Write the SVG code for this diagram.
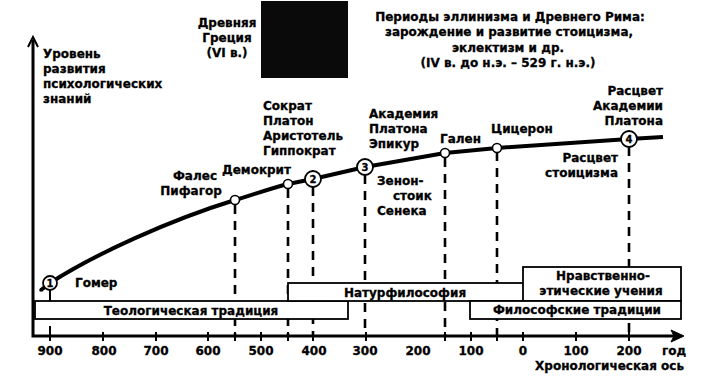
<svg xmlns="http://www.w3.org/2000/svg" width="706" height="381" viewBox="0 0 706 381">
<style>
text{font-family:"DejaVu Sans","Liberation Sans",sans-serif;font-weight:bold;font-size:12px;fill:#000;stroke:#000;stroke-width:0.3}
.m{text-anchor:middle}
.e{text-anchor:end}
.axis{stroke:#000;stroke-width:3;fill:none}
.tick{stroke:#000;stroke-width:2}
.dash{stroke:#000;stroke-width:2.6;stroke-dasharray:9 7;fill:none}
.box{fill:#fff;stroke:#000;stroke-width:1.8}
.dot{fill:#fff;stroke:#000;stroke-width:1.6}
.num{fill:#fff;stroke:#000;stroke-width:1.8}
.n{font-size:10px;text-anchor:middle}
</style>
<rect width="706" height="381" fill="#fff"/>

<g id="connectors">
  <path class="dash" d="M235,205 V336 M288,189 V336 M313,187 V336 M365,175 V336 M445,158 V336 M497,152 V336 M629,147 V336"/>
  <path d="M50,290 V301" stroke="#000" stroke-width="2"/>
  <path d="M41,290 L50,283 C95,254 170,220 235,200 C255,194 272,188 288,184 L313,179 L365,167 L445,153 L497,148 L629,139 L663,137" fill="none" stroke="#000" stroke-width="4" stroke-linejoin="round"/>
  <circle cx="41" cy="290" r="1.8" fill="#000"/>
</g>

<g id="axes">
  <path class="axis" d="M33,40 V336 H676"/>
  <path d="M28,47 L33,37 L38,47" fill="none" stroke="#000" stroke-width="2"/>
  <path d="M671,330 L684,336 L671,342 L674,336 Z" fill="#000" stroke="#000" stroke-width="1"/>
  <path class="tick" d="M50,326 V341 M103,332 V341 M156,332 V341 M208,332 V341 M261,332 V341 M471,332 V341 M523,332 V341 M576,332 V341 M313,332 V341 M366,332 V341 M445,332 V341 M497,332 V341 M629,332 V341 M235,332 V341 M288,332 V341"/>
  <text x="50" y="355" class="m">900</text>
  <text x="104" y="355" class="m">800</text>
  <text x="156" y="355" class="m">700</text>
  <text x="208" y="355" class="m">600</text>
  <text x="261" y="355" class="m">500</text>
  <text x="314" y="355" class="m">400</text>
  <text x="365" y="355" class="m">300</text>
  <text x="418" y="355" class="m">200</text>
  <text x="471" y="355" class="m">100</text>
  <text x="523" y="355" class="m">0</text>
  <text x="576" y="355" class="m">100</text>
  <text x="629" y="355" class="m">200</text>
  <text x="662" y="355">год</text>
  <text x="684" y="370" class="e">Хронологическая ось</text>
</g>

<g id="y-label">
  <text x="43" y="58">Уровень</text>
  <text x="43" y="73">развития</text>
  <text x="43" y="88">психологических</text>
  <text x="43" y="103">знаний</text>
</g>

<g id="greece">
  <text x="227" y="27" class="m">Древняя</text>
  <text x="227" y="42" class="m">Греция</text>
  <text x="227" y="57" class="m">(VI в.)</text>
  <rect x="261" y="1" width="87" height="77" fill="#0a0a0a"/>
</g>

<g id="hellenism">
  <text x="510" y="21" class="m">Периоды эллинизма и Древнего Рима:</text>
  <text x="509" y="36" class="m">зарождение и развитие стоицизма,</text>
  <text x="508" y="52" class="m">эклектизм и др.</text>
  <text x="508" y="67" class="m">(IV в. до н.э. – 529 г. н.э.)</text>
</g>

<g id="box-theology">
  <rect class="box" x="35" y="301" width="313" height="18"/>
  <text x="191" y="315" class="m">Теологическая традиция</text>
</g>
<g id="box-natur">
  <rect class="box" x="288" y="283" width="240" height="18"/>
  <text x="405" y="297" class="m">Натурфилософия</text>
</g>
<g id="box-ethics">
  <rect class="box" x="523" y="267" width="158" height="34"/>
  <text x="603" y="280" class="m">Нравственно-</text>
  <text x="601" y="295" class="m">этические учения</text>
</g>
<g id="box-philos">
  <rect class="box" x="470" y="301" width="211" height="18"/>
  <text x="577" y="314" class="m">Философские традиции</text>
</g>

<g id="p1">
  <circle class="num" cx="50" cy="283" r="7"/>
  <text x="50" y="287" class="n">1</text>
  <text x="75" y="287">Гомер</text>
</g>
<g id="p-thales">
  <circle class="dot" cx="235" cy="200" r="4.5"/>
  <text x="195" y="180" class="m">Фалес</text>
  <text x="191" y="195" class="m">Пифагор</text>
</g>
<g id="p-democritus">
  <circle class="dot" cx="288" cy="184" r="4.5"/>
  <text x="222" y="174">Демокрит</text>
</g>
<g id="p2">
  <circle class="num" cx="313" cy="179" r="8"/>
  <text x="313" y="183" class="n">2</text>
  <text x="263" y="110">Сократ</text>
  <text x="263" y="125">Платон</text>
  <text x="263" y="140">Аристотель</text>
  <text x="263" y="155">Гиппократ</text>
</g>
<g id="p3">
  <circle class="num" cx="365" cy="167" r="8"/>
  <text x="365" y="171" class="n">3</text>
  <text x="369" y="118">Академия</text>
  <text x="369" y="133">Платона</text>
  <text x="369" y="148">Эпикур</text>
  <text x="377" y="185">Зенон-</text>
  <text x="393" y="200">стоик</text>
  <text x="377" y="215">Сенека</text>
</g>
<g id="p-galen">
  <circle class="dot" cx="445" cy="153" r="4.5"/>
  <text x="440" y="143">Гален</text>
</g>
<g id="p-cicero">
  <circle class="dot" cx="497" cy="148" r="4.5"/>
  <text x="491" y="133">Цицерон</text>
</g>
<g id="p4">
  <circle class="num" cx="629" cy="139" r="8"/>
  <text x="629" y="143" class="n">4</text>
  <text x="663" y="95" class="e">Расцвет</text>
  <text x="663" y="110" class="e">Академии</text>
  <text x="663" y="125" class="e">Платона</text>
  <text x="618" y="162" class="e">Расцвет</text>
  <text x="618" y="177" class="e">стоицизма</text>
</g>
</svg>
